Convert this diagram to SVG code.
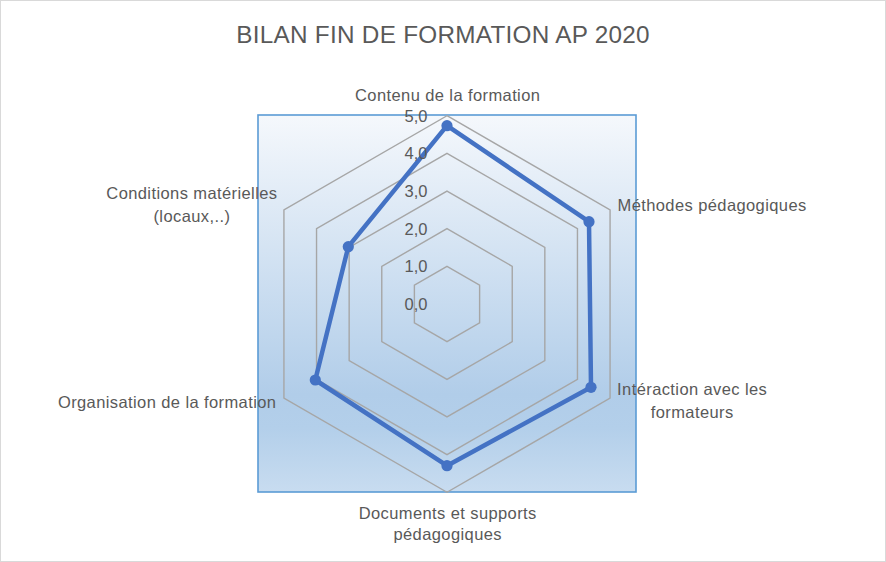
<svg xmlns="http://www.w3.org/2000/svg" width="886" height="562" viewBox="0 0 886 562">
  <defs>
    <linearGradient id="plotGrad" x1="0" y1="0" x2="0" y2="1">
      <stop offset="0" stop-color="#f5f8fc"/>
      <stop offset="0.74" stop-color="#b1cde9"/>
      <stop offset="0.83" stop-color="#b3cfea"/>
      <stop offset="1" stop-color="#c8dcf0"/>
    </linearGradient>
    <marker id="dot" viewBox="0 0 12 12" refX="6" refY="6" markerWidth="12" markerHeight="12" markerUnits="userSpaceOnUse">
      <circle cx="6" cy="6" r="5.6" fill="#4472c4"/>
    </marker>
    <style>
      .lbl { font-family: "Liberation Sans", Arial, sans-serif; font-size: 16.5px; letter-spacing: 0.4px; fill: #595959; }
      .num { font-family: "Liberation Sans", Arial, sans-serif; font-size: 16.5px; fill: #595959; }
      .ttl { font-family: "Liberation Sans", Arial, sans-serif; font-size: 24.3px; letter-spacing: 0.27px; fill: #595959; }
      .grid { fill: none; stroke: #a6a6a6; stroke-width: 1.4; }
      .series { fill: none; stroke: #4472c4; stroke-width: 4.5; stroke-linejoin: round; marker-start: url(#dot); marker-mid: url(#dot); }
    </style>
  </defs>

  <rect id="chart-area" x="0.5" y="0.5" width="885" height="561" fill="#ffffff" stroke="#d9d9d9" stroke-width="1"/>

  <g id="plot-area">
    <rect x="258" y="115" width="378" height="377" fill="url(#plotGrad)" stroke="#5b9bd5" stroke-width="1.6"/>
  </g>

  <g id="gridlines">
    <polygon class="grid" points="447,266.34 479.61,285.17 479.61,322.83 447,341.66 414.39,322.83 414.39,285.17"/>
    <polygon class="grid" points="447,228.68 512.23,266.34 512.23,341.66 447,379.32 381.77,341.66 381.77,266.34"/>
    <polygon class="grid" points="447,191.02 544.84,247.51 544.84,360.49 447,416.98 349.16,360.49 349.16,247.51"/>
    <polygon class="grid" points="447,153.36 577.46,228.68 577.46,379.32 447,454.64 316.54,379.32 316.54,228.68"/>
    <polygon class="grid" points="447,115.7 610.07,209.85 610.07,398.15 447,492.3 283.93,398.15 283.93,209.85"/>
  </g>

  <g id="connectors">
    <path class="series" d="M447,125.7 L589,221.7 L591,387.3 L447,465.7 L315.3,380 L348.3,246.7 Z"/>
  </g>

  <g id="axis-labels" text-anchor="end">
    <text class="num" x="427.5" y="309.9">0,0</text>
    <text class="num" x="427.5" y="272.2">1,0</text>
    <text class="num" x="427.5" y="234.6">2,0</text>
    <text class="num" x="427.5" y="196.9">3,0</text>
    <text class="num" x="427.5" y="159.3">4,0</text>
    <text class="num" x="427.5" y="121.6">5,0</text>
  </g>

  <g id="node-contenu">
    <text class="lbl" x="447.7" y="100.5" text-anchor="middle">Contenu de la formation</text>
  </g>
  <g id="node-methodes">
    <text class="lbl" x="617.5" y="211">Méthodes pédagogiques</text>
  </g>
  <g id="node-interaction">
    <text class="lbl" x="692.2" y="395" text-anchor="middle">Intéraction avec les</text>
    <text class="lbl" x="692.2" y="418.3" text-anchor="middle">formateurs</text>
  </g>
  <g id="node-documents">
    <text class="lbl" x="447.7" y="518.5" text-anchor="middle">Documents et supports</text>
    <text class="lbl" x="447.7" y="540" text-anchor="middle">pédagogiques</text>
  </g>
  <g id="node-organisation">
    <text class="lbl" x="276.4" y="407.7" text-anchor="end">Organisation de la formation</text>
  </g>
  <g id="node-conditions">
    <text class="lbl" x="191.9" y="199.3" text-anchor="middle">Conditions matérielles</text>
    <text class="lbl" x="191.9" y="221.7" text-anchor="middle">(locaux,..)</text>
  </g>

  <g id="title">
    <text class="ttl" x="443.1" y="43.3" text-anchor="middle">BILAN FIN DE FORMATION AP 2020</text>
  </g>
</svg>
